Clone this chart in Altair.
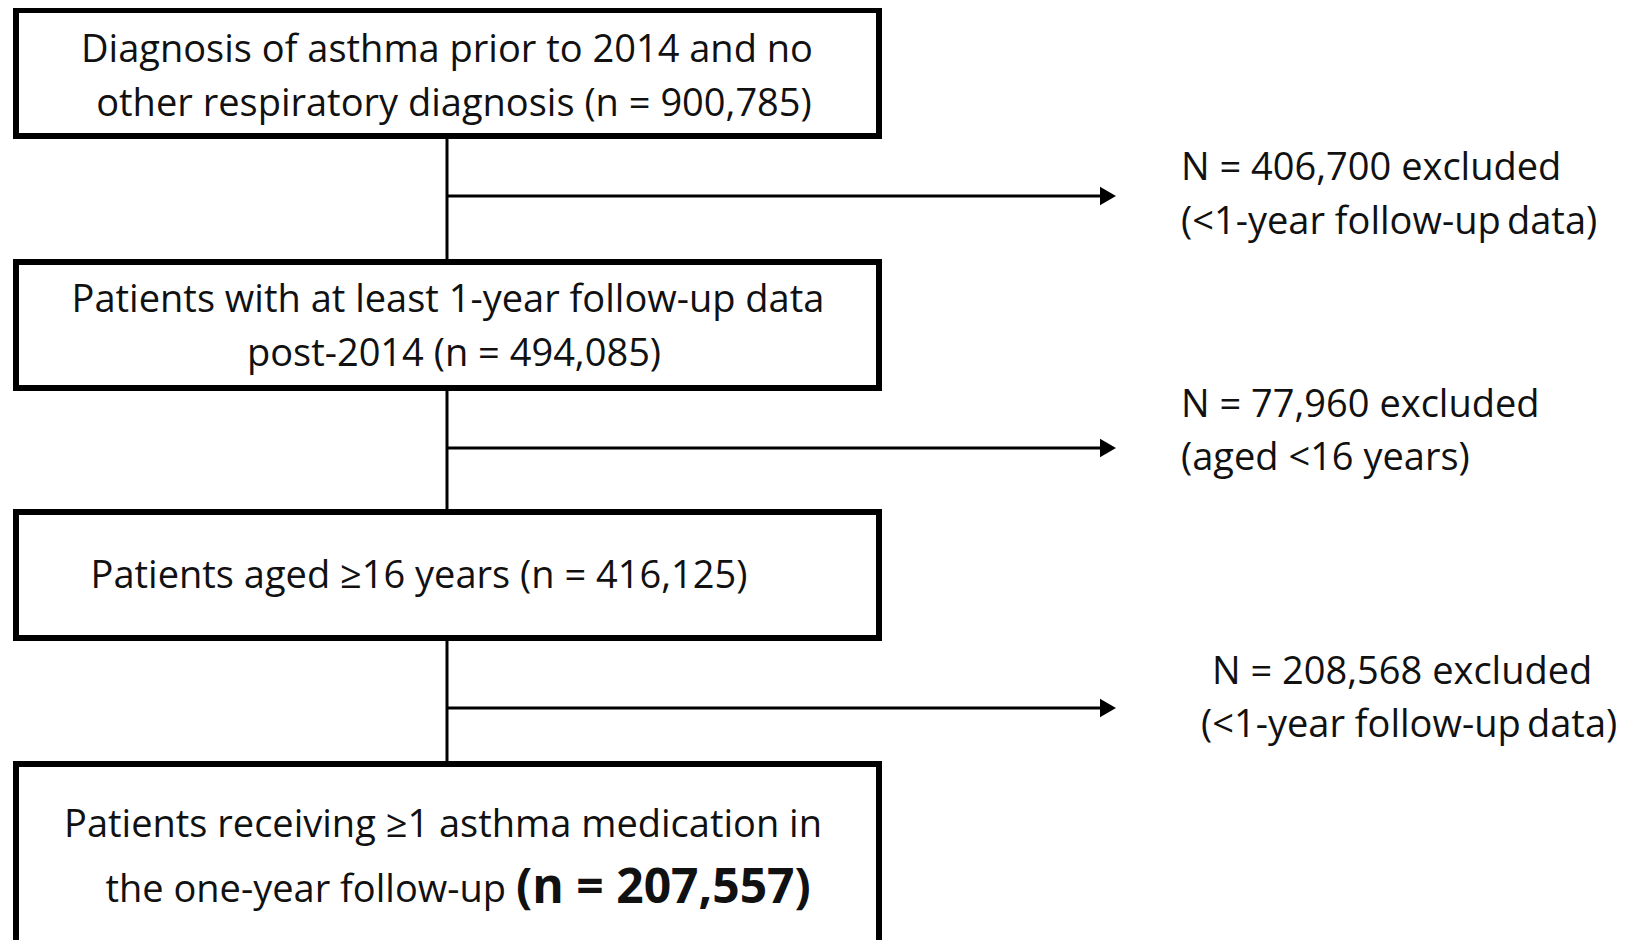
import altair as alt
import pandas as pd

# ---- data ----
stage_lines = [
    ["Diagnosis of asthma prior to 2014 and no", "other respiratory diagnosis"],
    ["Patients with at least 1-year follow-up data", "post-2014"],
    ["Patients aged ≥16 years"],
    ["Patients receiving ≥1 asthma medication in", "the one-year follow-up"],
]
stage_counts = [900785, 494085, 416125, 207557]
excluded_counts = [406700, 77960, 208568]
excluded_reasons = ["<1-year follow-up\u2009data", "aged <16 years", "<1-year follow-up\u2009data"]

# ---- layout (pixel space of the figure) ----
W, H = 1629, 948
M = 8
FONT = "Open Sans"
FS = 38
BOLD_FS = 48
INK = "#111111"

box_x0, box_x1 = 16, 879
box_tops = [10, 262, 512, 764]
box_bottoms = [136, 388, 638, 990]
spine_x = 447
arrow_ys = [196, 448, 708]
arrow_tip = 1117
line_ys = [[51, 105], [301, 355], [577], [826, 891]]
line_xs = [[447, 454], [448, 454], [419], [443, 506]]
excl_x = [[1181, 1181], [1181, 1181], [1212, 1201]]
excl_y = [[169, 223], [406, 459], [673, 726]]
bold_x = 516

xs = alt.Scale(domain=[M, W - M], range=[0, W - 2 * M], zero=False, nice=False)
ys = alt.Scale(domain=[M, H - M], range=[0, H - 2 * M], zero=False, nice=False)

def fmt(n):
    return f"{n:,}"

boxes = pd.DataFrame({
    "x0": [box_x0] * 4, "x1": [box_x1] * 4,
    "y0": box_tops, "y1": box_bottoms,
})

vlines = pd.DataFrame({
    "x": [spine_x] * 3,
    "y0": box_bottoms[:3],
    "y1": box_tops[1:],
})

arrows = pd.DataFrame({
    "x0": [spine_x] * 3,
    "x1": [arrow_tip - 12] * 3,
    "y": arrow_ys,
})
heads = pd.DataFrame({"x": [arrow_tip - 9] * 3, "y": arrow_ys})

rows_c = []
for i, lines in enumerate(stage_lines):
    for j, t in enumerate(lines):
        if i == 3 and j == 1:
            continue
        txt = t
        if j == len(lines) - 1 and i < 3:
            txt = f"{t} (n = {fmt(stage_counts[i])})"
        rows_c.append({"x": line_xs[i][j], "y": line_ys[i][j], "t": txt})
rows_c = pd.DataFrame(rows_c)

rows_r = pd.DataFrame([{"x": line_xs[3][1], "y": line_ys[3][1], "t": stage_lines[3][1]}])
rows_b = pd.DataFrame([{"x": bold_x, "y": line_ys[3][1] - 2, "t": f"(n = {fmt(stage_counts[3])})"}])

rows_l = []
for k in range(3):
    rows_l.append({"x": excl_x[k][0], "y": excl_y[k][0], "t": f"N = {fmt(excluded_counts[k])} excluded"})
    rows_l.append({"x": excl_x[k][1], "y": excl_y[k][1], "t": f"({excluded_reasons[k]})"})
rows_l = pd.DataFrame(rows_l)

X = lambda f: alt.X(f, type="quantitative", scale=xs, axis=None)
Y = lambda f: alt.Y(f, type="quantitative", scale=ys, axis=None)

box_layer = alt.Chart(boxes).mark_rect(
    fill="white", stroke="#000", strokeWidth=6, clip=True
).encode(x=X("x0"), x2="x1", y=Y("y0"), y2="y1")

vline_layer = alt.Chart(vlines).mark_rule(color="#000", strokeWidth=3).encode(
    x=X("x"), y=Y("y0"), y2="y1")

arrow_layer = alt.Chart(arrows).mark_rule(color="#000", strokeWidth=3).encode(
    x=X("x0"), x2="x1", y=Y("y"))

head_layer = alt.Chart(heads).mark_point(
    shape="triangle-right", filled=True, color="#000", size=340, opacity=1
).encode(x=X("x"), y=Y("y"))

def text_layer(df, align, weight="normal", size=FS):
    return alt.Chart(df).mark_text(
        align=align, baseline="middle", font=FONT, fontSize=size,
        fontWeight=weight, color=INK
    ).encode(x=X("x"), y=Y("y"), text="t:N")

chart = alt.layer(
    vline_layer, arrow_layer, head_layer, box_layer,
    text_layer(rows_c, "center"),
    text_layer(rows_r, "right"),
    text_layer(rows_b, "left", "bold", BOLD_FS),
    text_layer(rows_l, "left"),
).properties(
    width=W - 2 * M, height=H - 2 * M, padding=0,
    autosize=alt.AutoSizeParams(type="none"),
).configure_view(stroke=None)

chart.save("out.html", embed_options={"renderer": "svg", "actions": False})
